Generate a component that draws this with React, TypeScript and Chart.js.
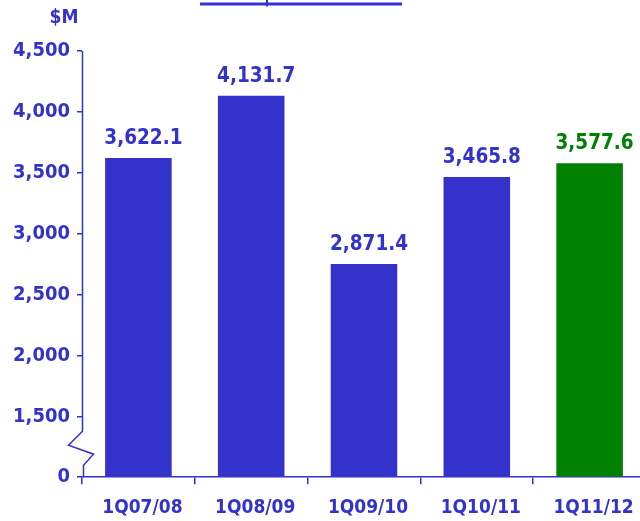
import React, { useEffect, useRef } from "react";
import { Chart, registerables } from "chart.js";

Chart.register(...registerables);

const categories = ["1Q07/08", "1Q08/09", "1Q09/10", "1Q10/11", "1Q11/12"];
// bar heights as drawn in the reference (the axis is broken below 1,500)
const barHeights = [3622.1, 4131.7, 2750, 3465.8, 3577.6];
const valueLabels = ["3,622.1", "4,131.7", "2,871.4", "3,465.8", "3,577.6"];
const barColors = ["#3333cc", "#3333cc", "#3333cc", "#3333cc", "#008000"];
const yTickValues = [1000, 1500, 2000, 2500, 3000, 3500, 4000, 4500];
const yTickLabels = ["0", "1,500", "2,000", "2,500", "3,000", "3,500", "4,000", "4,500"];

const BLUE = "#3333cc";
const FONT = "'DejaVu Sans Condensed', 'DejaVu Sans', Tahoma, sans-serif";

export default function App() {
  const ref = useRef<HTMLCanvasElement | null>(null);

  useEffect(() => {
    if (!ref.current) return;
    const deco = {
      id: "deco",
      afterDraw(chart: any) {
        const ctx = chart.ctx;
        const y = chart.scales.y;
        const area = chart.chartArea;
        const x0 = Math.round(area.left) + 0.5;
        const bottom = y.getPixelForValue(1000);
        const top = y.getPixelForValue(4500);
        ctx.save();
        ctx.strokeStyle = BLUE;
        ctx.lineWidth = 1.5;
        ctx.beginPath();
        ctx.moveTo(x0, top);
        ctx.lineTo(x0, bottom - 46);
        ctx.lineTo(x0 - 14, bottom - 32);
        ctx.lineTo(x0 + 11, bottom - 23);
        ctx.lineTo(x0 + 1, bottom - 12);
        ctx.lineTo(x0 + 1, bottom);
        ctx.stroke();
        // title underline (title text is cut off above the frame)
        ctx.lineWidth = 3;
        ctx.beginPath();
        ctx.moveTo(200, 4);
        ctx.lineTo(402, 4);
        ctx.stroke();
        ctx.lineWidth = 2;
        ctx.beginPath();
        ctx.moveTo(267, 0);
        ctx.lineTo(267, 6.5);
        ctx.stroke();
        // unit
        ctx.fillStyle = BLUE;
        ctx.font = `bold 19px ${FONT}`;
        ctx.textAlign = "center";
        ctx.textBaseline = "alphabetic";
        ctx.fillText("$M", 64, 23);
        // value labels
        ctx.font = `bold 20.5px ${FONT}`;
        const meta = chart.getDatasetMeta(0);
        meta.data.forEach((bar: any, i: number) => {
          ctx.fillStyle = barColors[i];
          ctx.fillText(valueLabels[i], bar.x + 5, bar.y - 14);
        });
        ctx.restore();
      },
    };

    const chart = new Chart(ref.current, {
      type: "bar",
      data: {
        labels: categories,
        datasets: [
          {
            data: barHeights,
            backgroundColor: barColors,
            borderWidth: 0,
            categoryPercentage: 1,
            barPercentage: 0.59,
            base: 1000,
          } as any,
        ],
      },
      options: {
        responsive: false,
        animation: false,
        devicePixelRatio: 1,
        layout: { padding: { top: 51, right: 14, bottom: -10, left: 0 } },
        plugins: { legend: { display: false }, tooltip: { enabled: false }, title: { display: false } },
        scales: {
          x: {
            offset: true,
            border: { display: true, color: BLUE, width: 1.5 },
            grid: {
              display: true,
              offset: true,
              drawOnChartArea: false,
              drawTicks: true,
              tickLength: 7,
              color: BLUE,
              lineWidth: 1.5,
            },
            ticks: {
              color: BLUE,
              font: { family: FONT, size: 19, weight: "bold" },
              padding: 12,
              labelOffset: 4,
              maxRotation: 0,
              autoSkip: false,
            },
          },
          y: {
            min: 1000,
            max: 4500,
            afterBuildTicks(scale: any) {
              scale.ticks = yTickValues.map((v) => ({ value: v }));
            },
            afterFit(scale: any) {
              scale.width = 82;
            },
            border: { display: false },
            grid: {
              display: true,
              drawOnChartArea: false,
              drawTicks: true,
              tickLength: 5,
              color: BLUE,
              lineWidth: 1.5,
            },
            ticks: {
              color: BLUE,
              font: { family: FONT, size: 20, weight: "bold" },
              padding: 7,
              callback: (v: any) => {
                const i = yTickValues.indexOf(Number(v));
                return i >= 0 ? yTickLabels[i] : "";
              },
            },
          },
        },
      } as any,
      plugins: [deco],
    });
    return () => chart.destroy();
  }, []);

  return (
    <div
      style={{
        position: "absolute",
        left: 0,
        top: 0,
        width: 640,
        height: 521,
        overflow: "hidden",
        background: "#fff",
      }}
    >
      <canvas ref={ref} width={660} height={521} style={{ display: "block" }} />
    </div>
  );
}
